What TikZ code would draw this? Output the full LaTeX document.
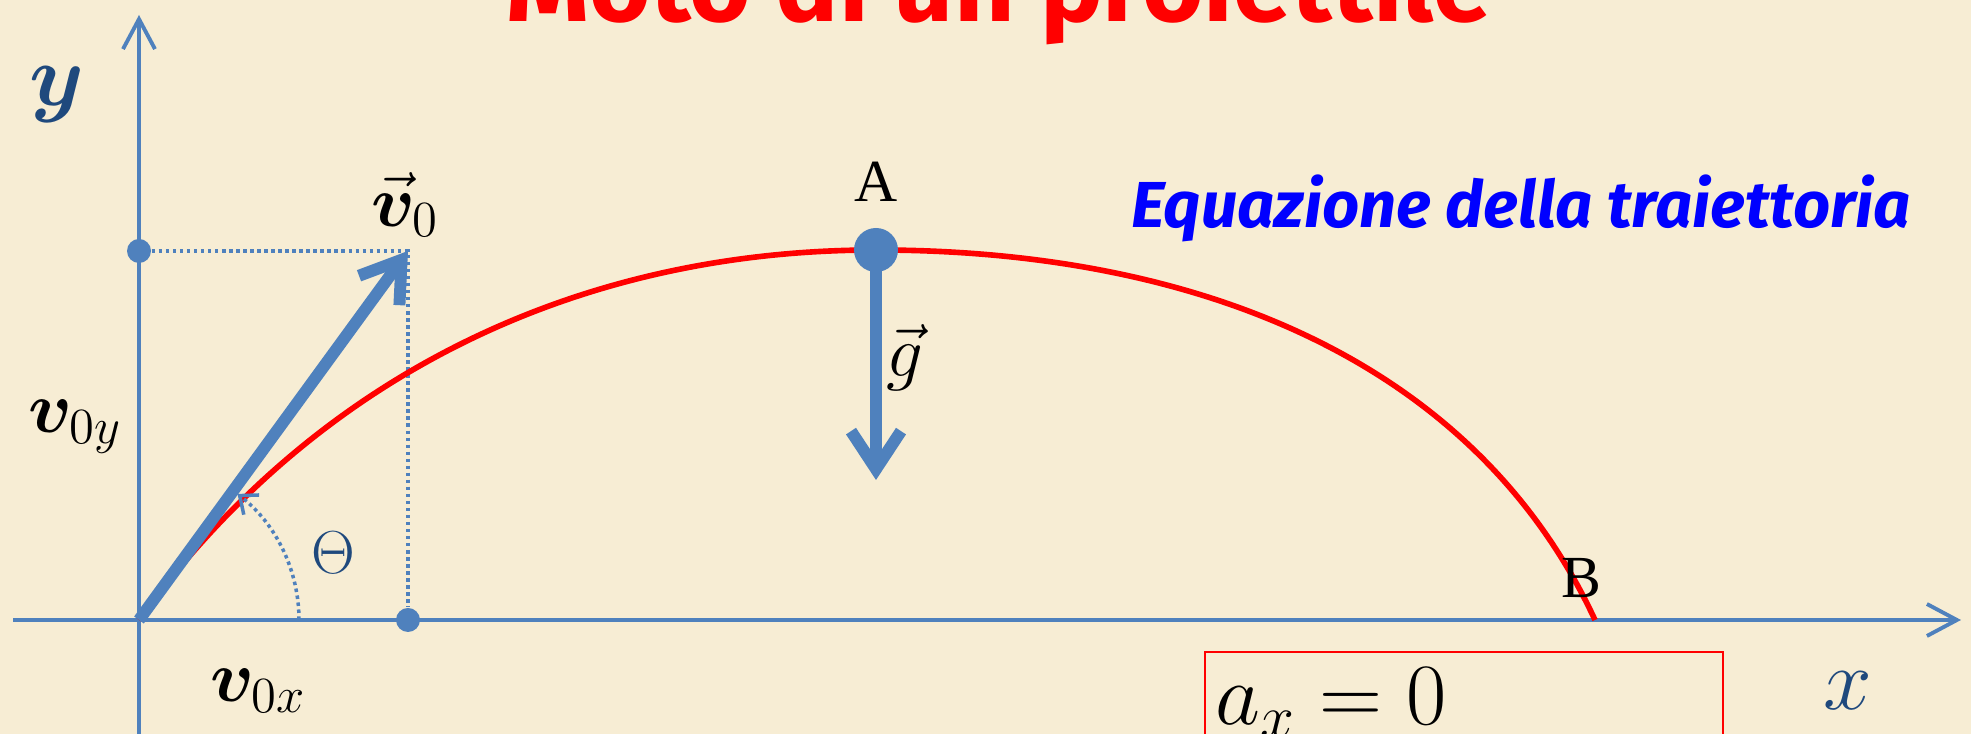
\documentclass[tikz,border=0pt]{standalone}
\usepackage{fontspec}
\usepackage{bm}
\setmainfont{Liberation Serif}
\newfontfamily\comicfont{Fira Sans}
\usetikzlibrary{arrows.meta, positioning}
\definecolor{bgcream}{RGB}{247,237,212}
\definecolor{axisblue}{RGB}{79,129,189}
\definecolor{labelblue}{RGB}{31,73,125}

\begin{document}
\begin{tikzpicture}[
axis/.style={-{Straight Barb[length=3mm, width=3.2mm]}, axisblue, line width=1.1pt},
vec/.style={-{Straight Barb[length=3.8mm, width=5mm]}, axisblue, line width=3.4pt},
proj/.style={axisblue, densely dotted, line width=1pt},
dot/.style={circle, fill=axisblue, inner sep=0pt, minimum size=2.4mm},
traj/.style={red, line width=1.6pt},
lbl/.style={font=\fontsize{20}{24}\selectfont}
]
\useasboundingbox[fill=bgcream] (-1.39,-1.14) rectangle (18.32,6.20);

% title, cut off by the top edge
\node[red, font=\comicfont\bfseries\fontsize{30}{34}\selectfont, anchor=base] (title) at (8.60,5.98) {Moto di un proiettile};

% axes
\coordinate (O) at (0,0);
\coordinate (ybot) at (0,-1.14);
\coordinate (ytop) at (0,6.05);
\coordinate (xleft) at (-1.26,0);
\coordinate (xright) at (18.22,0);
\draw[axis] (ybot) -- (ytop);
\draw[axis] (xleft) -- (xright);

% components of v0
\coordinate (tip) at (2.69,3.69);
\node[dot] (py) at (0,3.69) {};
\node[dot] (px) at (2.69,0) {};
\draw[proj] (py) -- (tip) -- (px);

% trajectory
\coordinate (apexpt) at (7.37,3.70);
\coordinate (B) at (14.56,0);
\draw[traj] (O) .. controls (1.76,2.43) and (4.37,3.70) .. (apexpt)
  .. controls (10.67,3.70) and (13.38,2.54) .. (B);
\node[dot, minimum size=4.4mm] (apex) at (apexpt) {};

% vectors
\draw[vec] (O) -- (tip);
\coordinate (gtip) at (7.37,1.40);
\draw[vec] (apex.center) -- (gtip);
\draw[proj, -{Straight Barb[length=1.5mm, width=2.5mm]}] (1.6,0) arc[start angle=0, end angle=52, radius=1.6];

% labels
\node[labelblue, font=\fontsize{24}{28}\selectfont] (ylab) at (-0.82,5.25) {$\bm y$};
\node[labelblue, font=\fontsize{24}{28}\selectfont] (xlab) at (17.09,-0.71) {$x$};
\node[lbl] (v0lab) at (2.66,4.15) {$\vec{\bm v}_0$};
\node[lbl] (vylab) at (-0.64,1.93) {$\bm v_{0y}$};
\node[lbl] (vxlab) at (1.19,-0.71) {$\bm v_{0x}$};
\node[labelblue, font=\fontsize{16}{18}\selectfont] (theta) at (1.94,0.67) {$\Theta$};
\node[font=\fontsize{17}{20}\selectfont] (Alab) at (7.37,4.38) {A};
\node[font=\fontsize{17}{20}\selectfont] (Blab) at (14.42,0.42) {B};
\node[lbl] (glab) at (7.66,2.62) {$\vec g$};
\node[blue, font=\comicfont\bfseries\itshape\fontsize{18.5}{22}\selectfont, anchor=base west] (eq) at (9.80,3.92) {Equazione della traiettoria};

% acceleration box, cut off by the bottom edge
\node[draw=red, line width=0.6pt, anchor=north west, text width=4.98cm, inner xsep=0.1cm, inner ysep=0.1cm,
  text height=0.62cm, text depth=1cm, align=left, font=\fontsize{26}{30}\selectfont] (ax) at (10.65,-0.31) {$a_x = 0$};
\end{tikzpicture}
\end{document}
